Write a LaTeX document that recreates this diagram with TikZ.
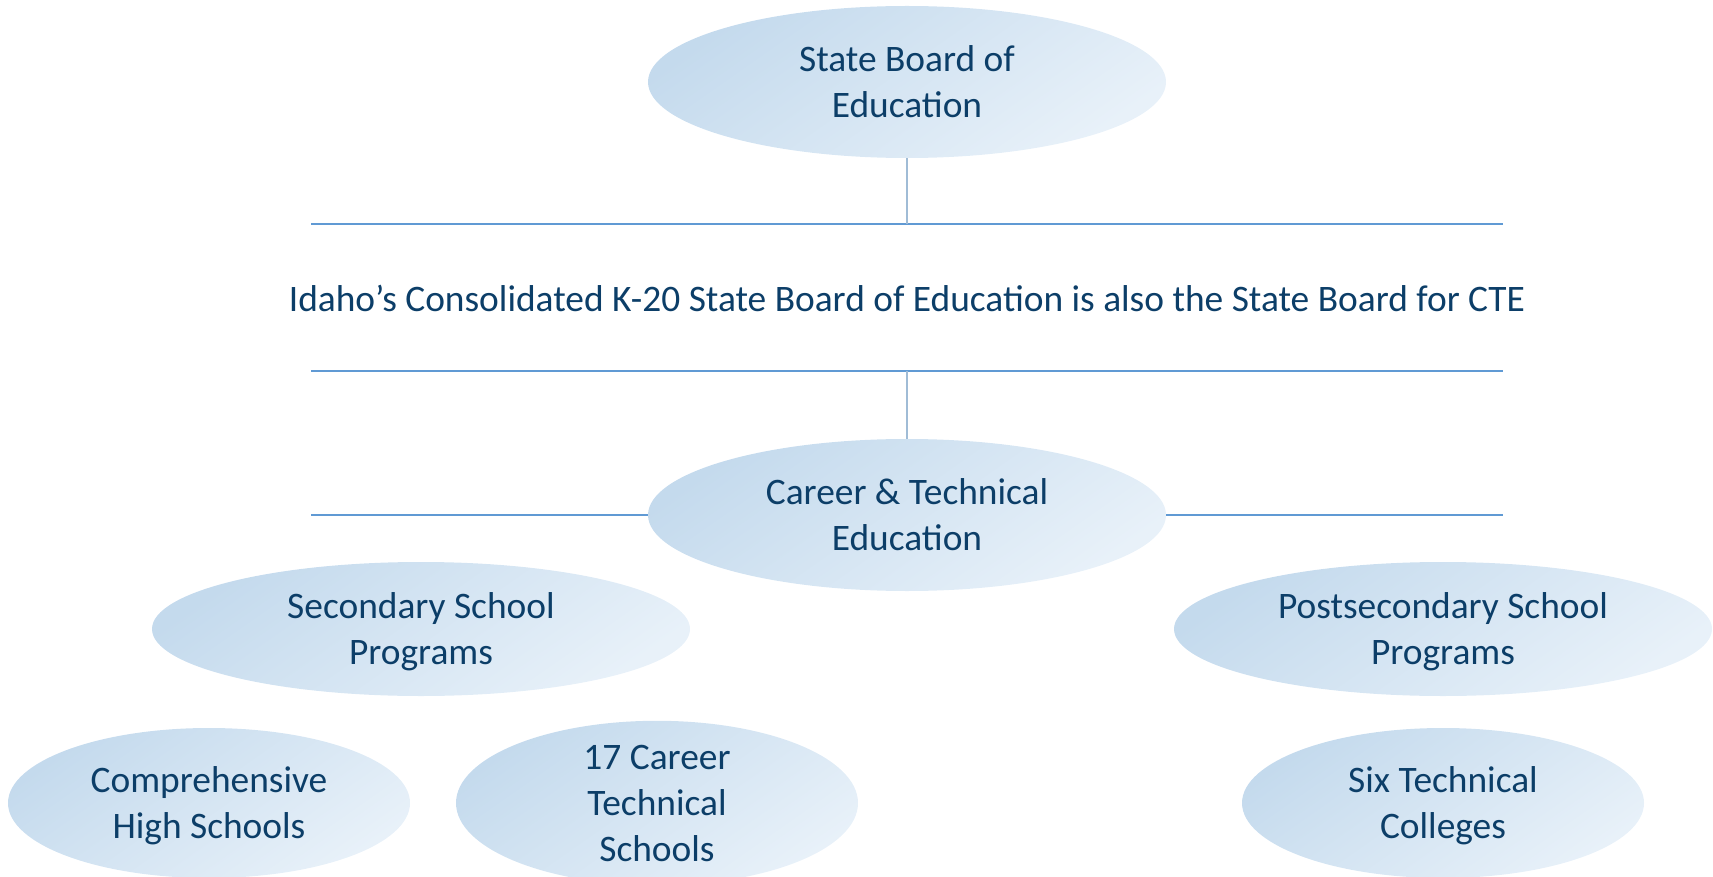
\documentclass[tikz,border=0pt]{standalone}
\usepackage{fontspec}
\setmainfont{Carlito}
\usepackage{tikz}
\usetikzlibrary{shapes.geometric}
\definecolor{txtblue}{RGB}{12,62,104}
\definecolor{ellA}{RGB}{196,218,237}
\definecolor{ellB}{RGB}{232,241,249}
\definecolor{hline}{RGB}{96,154,212}
\definecolor{vline}{RGB}{160,188,214}

\begin{document}
\begin{tikzpicture}[x=0.5pt,y=-0.5pt]
            \tikzstyle{oval}=[ellipse,inner sep=0pt,align=center,text=txtblue,
              top color=ellA,bottom color=ellB,shading angle=35,
              font=\fontsize{18.7}{23}\selectfont]
            \tikzstyle{big}=[oval,minimum width=259pt,minimum height=76pt]
            \tikzstyle{wide}=[oval,text depth=0pt,minimum width=269pt,minimum height=67pt]
            \tikzstyle{small}=[oval,text depth=0pt,minimum width=201pt,minimum height=75pt]
            \tikzstyle{rule}=[draw=hline,line width=0.75pt]
            \tikzstyle{stem}=[draw=vline,line width=0.6pt]
            \useasboundingbox (0,0) rectangle (1713,877);
            \node[big] (sbe) at (907,82) {State Board of\\Education};
            \node[big] (cte) at (907,515) {Career \& Technical\\Education};
            \node[wide] (sec) at (421,629) {Secondary School\\Programs};
            \node[wide] (post) at (1443,629) {Postsecondary School\\Programs};
            \node[small] (comp) at (209,803) {Comprehensive\\High Schools};
            \node[small] (tech) at (657,803) {17 Career\\Technical\\Schools};
            \node[small] (coll) at (1443,803) {Six Technical\\Colleges};
            \coordinate (aw) at (311,224);
            \coordinate (ae) at (1503,224);
            \coordinate (bw) at (311,371);
            \coordinate (be) at (1503,371);
            \coordinate (cw) at (311,515);
            \coordinate (ce) at (1503,515);
            \draw[rule] (aw) -- (ae);
            \draw[rule] (bw) -- (be);
            \draw[rule] (cw) -- (cte.west);
            \draw[rule] (cte.east) -- (ce);
            \draw[stem] (sbe.south) -- (sbe.south |- aw);
            \draw[stem] (cte.north) -- (cte.north |- bw);
            \node[text=txtblue,font=\fontsize{18.7}{23}\selectfont] (idaho) at (907,298)
              {Idaho’s Consolidated K-20 State Board of Education is also the State Board for CTE};
        \end{tikzpicture}
\end{document}
